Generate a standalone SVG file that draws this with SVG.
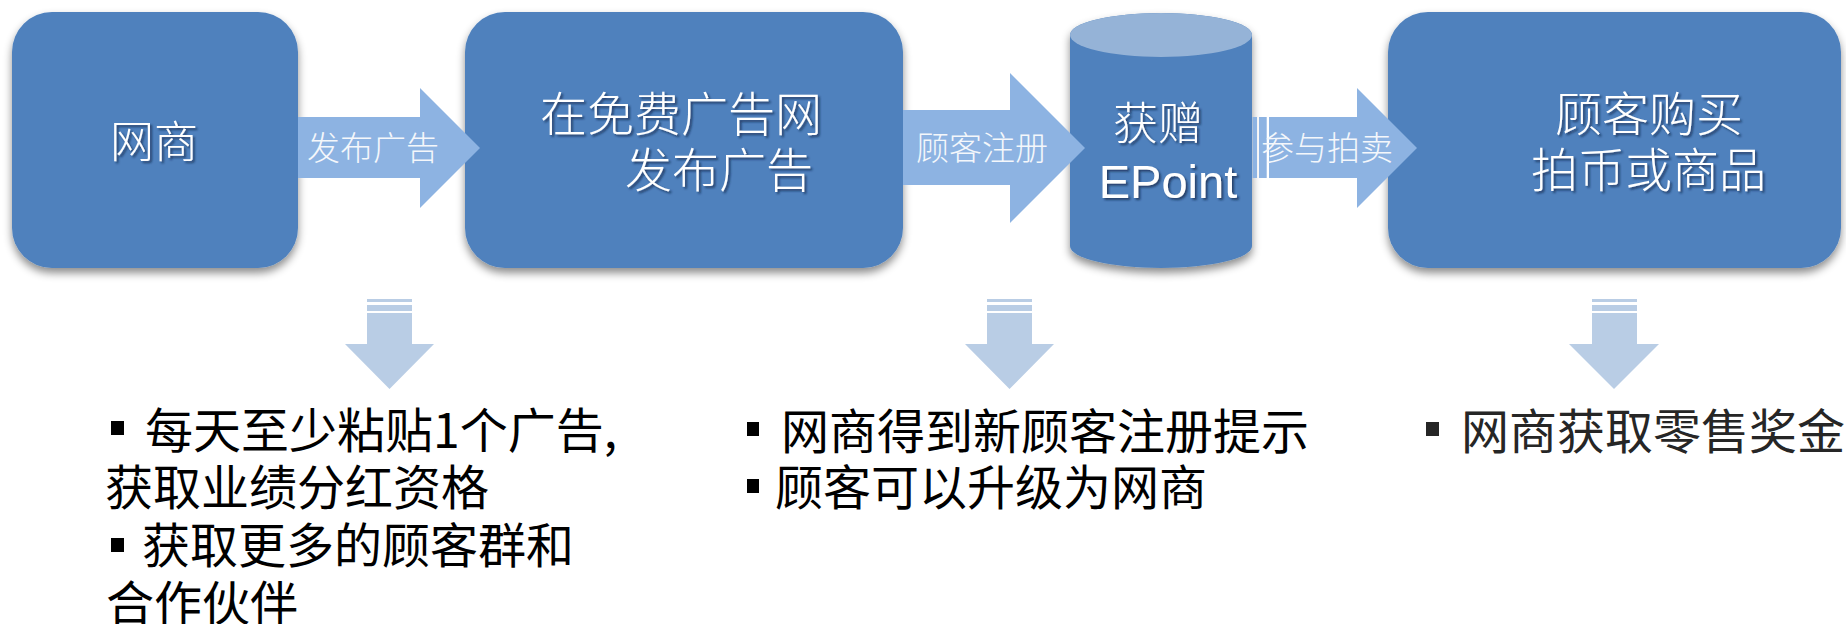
<svg xmlns="http://www.w3.org/2000/svg" width="1846" height="624" viewBox="0 0 1846 624">
<defs>
<filter id="shadow" x="-10%" y="-10%" width="120%" height="130%">
<feDropShadow dx="0" dy="5" stdDeviation="4" flood-color="#000" flood-opacity="0.45"/>
</filter>
<filter id="tshadow" x="-10%" y="-20%" width="120%" height="150%">
<feDropShadow dx="2" dy="2" stdDeviation="1.2" flood-color="#0b2246" flood-opacity="0.7"/>
</filter>
<style>
.box{fill:#4f81bd;filter:url(#shadow);}
.harrow{fill:#8db3e2;}
.darrow{fill:#b9cde5;}
.ntext{font-family:"Noto Sans CJK SC","Liberation Sans",sans-serif;font-weight:300;fill:#ffffff;filter:url(#tshadow);}
.alabel{font-family:"Noto Sans CJK SC","Liberation Sans",sans-serif;font-weight:300;font-size:33px;fill:#f4f7fb;}
.btext{font-family:"Noto Sans CJK SC","Liberation Sans",sans-serif;font-size:48px;fill:#000000;}
.bullet{fill:#000000;}
</style>
</defs>

<g id="node-wangshang">
<rect class="box" x="12" y="12" width="286" height="256" rx="40" ry="40"/>
<text class="ntext" x="110" y="158" font-size="44">网商</text>
</g>

<g id="node-publish">
<rect class="box" x="465" y="12" width="438" height="256" rx="40" ry="40"/>
<text class="ntext" x="540" y="131" font-size="47">在免费广告网</text>
<text class="ntext" x="625" y="187" font-size="47">发布广告</text>
</g>

<g id="node-epoint">
<path class="box" d="M1070,35 A91,22 0 0 1 1252,35 V246 A91,22 0 0 1 1070,246 Z"/>
<ellipse cx="1161" cy="35" rx="91" ry="22" fill="#95b3d7"/>
<text class="ntext" x="1113" y="140" font-size="45">获赠</text>
<text class="ntext" x="1168" y="198" font-size="47" text-anchor="middle" style="font-family:'Liberation Sans',Arial,sans-serif;font-weight:400">EPoint</text>
</g>

<g id="node-buy">
<rect class="box" x="1388" y="12" width="453" height="256" rx="40" ry="40"/>
<text class="ntext" x="1555" y="131" font-size="47">顾客购买</text>
<text class="ntext" x="1531" y="187" font-size="47">拍币或商品</text>
</g>

<g id="connectors">
<g id="arrow-publish">
<path class="harrow" d="M298,117 H420 V88 L480,148 L420,208 V178 H298 Z"/>
<text class="alabel" x="307" y="160">发布广告</text>
</g>
<g id="arrow-register">
<path class="harrow" d="M903,110 H1010 V73 L1085,148 L1010,223 V185 H903 Z"/>
<text class="alabel" x="916" y="160" font-size="34">顾客注册</text>
</g>
<g id="arrow-auction">
<rect class="harrow" x="1252.5" y="117" width="4.5" height="61"/>
<rect class="harrow" x="1259" y="117" width="7.7" height="61"/>
<path class="harrow" d="M1269,117 H1357 V88 L1417,148 L1357,208 V178 H1269 Z"/>
<text class="alabel" x="1261" y="160">参与拍卖</text>
</g>
<g id="down-1">
<rect class="darrow" x="367" y="299" width="45" height="3"/>
<rect class="darrow" x="367" y="305" width="45" height="6"/>
<path class="darrow" d="M367,313 H412 V344 H434 L389.5,389 L345,344 H367 Z"/>
</g>
<g id="down-2">
<rect class="darrow" x="987" y="299" width="45" height="3"/>
<rect class="darrow" x="987" y="305" width="45" height="6"/>
<path class="darrow" d="M987,313 H1032 V344 H1054 L1009.5,389 L965,344 H987 Z"/>
</g>
<g id="down-3">
<rect class="darrow" x="1592" y="299" width="45" height="3"/>
<rect class="darrow" x="1592" y="305" width="45" height="6"/>
<path class="darrow" d="M1592,313 H1637 V344 H1659 L1614,389 L1569,344 H1592 Z"/>
</g>
</g>

<g id="notes-left">
<rect class="bullet" x="111" y="421" width="13" height="14"/>
<text class="btext" x="145" y="448">每天至少粘贴1个广告,</text>
<text class="btext" x="105" y="505">获取业绩分红资格</text>
<rect class="bullet" x="111" y="538" width="13" height="14"/>
<text class="btext" x="142" y="563">获取更多的顾客群和</text>
<text class="btext" x="106" y="621">合作伙伴</text>
</g>

<g id="notes-middle">
<rect class="bullet" x="747" y="422" width="12" height="14"/>
<text class="btext" x="781" y="449">网商得到新顾客注册提示</text>
<rect class="bullet" x="747" y="479" width="12" height="14"/>
<text class="btext" x="775" y="505">顾客可以升级为网商</text>
</g>

<g id="notes-right">
<rect class="bullet" x="1426" y="422" width="13" height="14" style="fill:#262626"/>
<text class="btext" x="1461" y="449" style="fill:#262626">网商获取零售奖金</text>
</g>
</svg>
